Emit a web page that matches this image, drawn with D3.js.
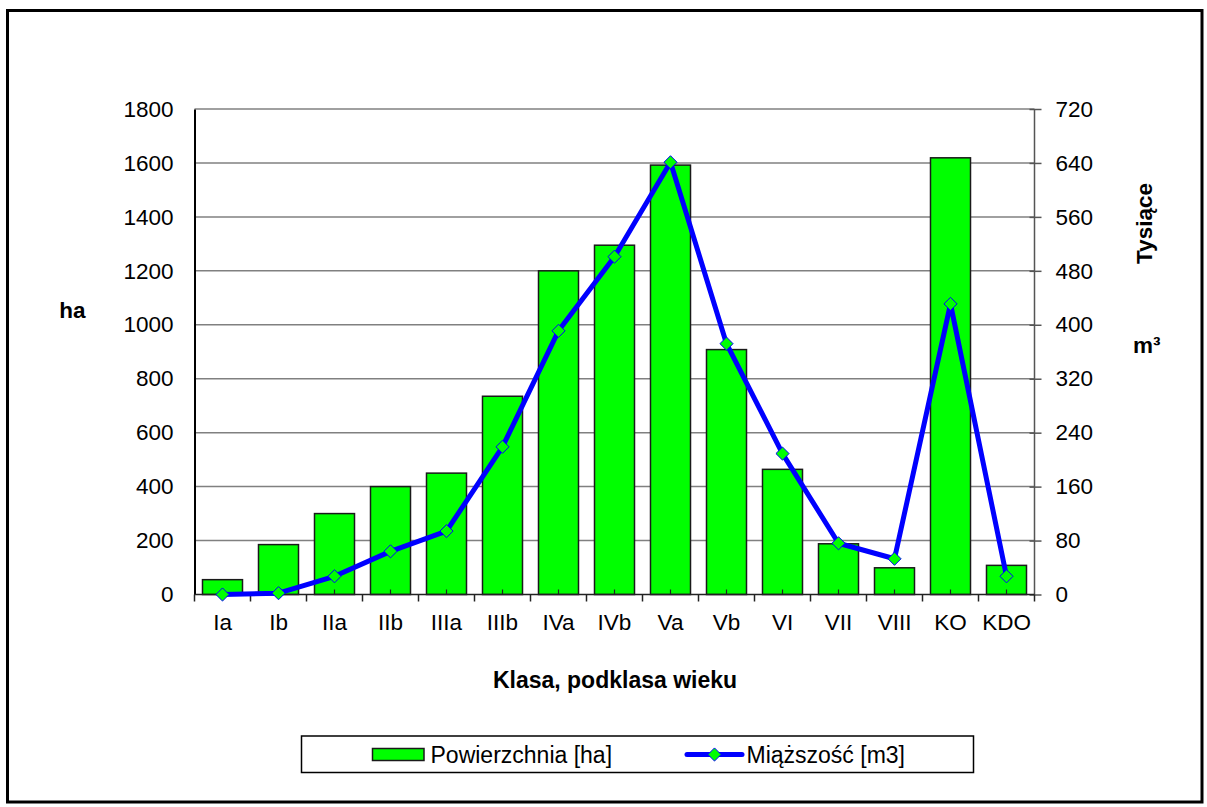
<!DOCTYPE html>
<html><head><meta charset="utf-8">
<script src="https://cdn.jsdelivr.net/npm/d3@7"></script>
<style>
html,body{margin:0;padding:0;background:#fff;}
svg{display:block;font-family:"Liberation Sans",Arial,sans-serif;}
</style></head>
<body>
<svg id="chart" width="1207" height="807"></svg>
<script>
const categories = ["Ia","Ib","IIa","IIb","IIIa","IIIb","IVa","IVb","Va","Vb","VI","VII","VIII","KO","KDO"];
const areaHa = [55,185,300,400,450,735,1200,1295,1592,908,464,188,99,1619,108];
const volumeK = [0,2,27,64,94,219,391,501,641,372,209,76,53,431,27];
const leftTicks = [0,200,400,600,800,1000,1200,1400,1600,1800];
const rightTicks = [0,80,160,240,320,400,480,560,640,720];
const seriesNames = ["Powierzchnia [ha]","Miąższość [m3]"];

const FONT = "'Liberation Sans',Arial,sans-serif";
const svg = d3.select("#chart");
const X0 = 194.5, X1 = 1034.5, Y0 = 594.5, Y1 = 109;
const FS = 22.5;

// outer border
svg.append("rect").attr("x",7.5).attr("y",10.5).attr("width",1194.5).attr("height",791.5)
  .attr("fill","#fff").attr("stroke","#000").attr("stroke-width",3);

const x = d3.scaleBand().domain(categories).range([X0,X1]).paddingInner(0.2857).paddingOuter(0.14285);
const yL = d3.scaleLinear().domain([0,1800]).range([Y0,Y1]);
const yR = d3.scaleLinear().domain([0,720]).range([Y0,Y1]);

// gridlines
svg.append("g").selectAll("line").data(leftTicks.slice(1)).join("line")
  .attr("x1",X0).attr("x2",X1).attr("y1",d=>yL(d)).attr("y2",d=>yL(d))
  .attr("stroke","#808080").attr("stroke-width",1.5);

// bars
svg.append("g").selectAll("rect").data(categories).join("rect")
  .attr("x",d=>x(d)).attr("width",x.bandwidth())
  .attr("y",(d,i)=>yL(areaHa[i])).attr("height",(d,i)=>Y0-yL(areaHa[i]))
  .attr("fill","#00ff00").attr("stroke","#1a1a1a").attr("stroke-width",1.5);

// left axis
const leftAxis = d3.axisLeft(yL).tickValues(leftTicks).tickFormat(d3.format("d")).tickSize(0).tickPadding(21);
const gL = svg.append("g").attr("transform",`translate(${X0},0)`).call(leftAxis);
gL.select(".domain").attr("stroke","#000").attr("stroke-width",2);
gL.selectAll("text").attr("font-size",FS).attr("fill","#000").attr("font-family",FONT);

// right axis
const rightAxis = d3.axisRight(yR).tickValues(rightTicks).tickFormat(d3.format("d")).tickSize(7).tickPadding(14);
const gR = svg.append("g").attr("transform",`translate(${X1},0)`).call(rightAxis);
gR.select(".domain").attr("stroke","#555").attr("stroke-width",1.5).attr("d",`M0,${Y0}V${Y1}`);
gR.selectAll(".tick line").attr("stroke","#555").attr("stroke-width",1.5).attr("x1",-5);
gR.selectAll("text").attr("font-size",FS).attr("fill","#000").attr("font-family",FONT);

// bottom axis
const bottomAxis = d3.axisBottom(x).tickSize(0).tickPadding(20);
const gB = svg.append("g").attr("transform",`translate(0,${Y0})`).call(bottomAxis);
gB.select(".domain").attr("stroke","#222").attr("stroke-width",1.5).attr("d",`M${X0},0H${X1}`);
gB.selectAll("text").attr("font-size",FS).attr("fill","#000").attr("font-family",FONT);
// category boundary ticks
const step = x.step();
svg.append("g").selectAll("line").data(d3.range(categories.length+1)).join("line")
  .attr("x1",i=>X0+i*step).attr("x2",i=>X0+i*step).attr("y1",Y0).attr("y2",Y0+7)
  .attr("stroke","#222").attr("stroke-width",1.5);
// small center ticks
svg.append("g").selectAll("line").data(categories).join("line")
  .attr("x1",d=>x(d)+x.bandwidth()/2).attr("x2",d=>x(d)+x.bandwidth()/2).attr("y1",Y0).attr("y2",Y0-5)
  .attr("stroke","#222").attr("stroke-width",1.2);

// line series
const line = d3.line().x((d,i)=>x(categories[i])+x.bandwidth()/2).y(d=>yR(d));
svg.append("path").datum(volumeK).attr("d",line).attr("fill","none")
  .attr("stroke","#0000ff").attr("stroke-width",5).attr("stroke-linejoin","round");
const diamond = d3.symbol().type(d3.symbolDiamond2).size(110);
svg.append("g").selectAll("path").data(volumeK).join("path")
  .attr("transform",(d,i)=>`translate(${x(categories[i])+x.bandwidth()/2},${yR(d)})`)
  .attr("d",diamond).attr("fill","#00ff00").attr("stroke","#0000ff").attr("stroke-width",1);

// axis titles
svg.append("text").attr("x",615).attr("y",688).attr("text-anchor","middle").attr("font-family",FONT)
  .attr("font-size",23).attr("font-weight","bold").text("Klasa, podklasa wieku");
svg.append("text").attr("x",72.5).attr("y",318).attr("text-anchor","middle").attr("font-family",FONT)
  .attr("font-size",22.5).attr("font-weight","bold").text("ha");
svg.append("text").attr("transform","translate(1151.5,223.5) rotate(-90)").attr("text-anchor","middle")
  .attr("font-family",FONT).attr("font-size",22.5).attr("font-weight","bold").text("Tysiące");
svg.append("text").attr("x",1133).attr("y",353).attr("font-family",FONT).attr("font-size",22.5).attr("font-weight","bold")
  .text("m³");

// legend
const lg = svg.append("g").attr("font-family",FONT);
lg.append("rect").attr("x",301.5).attr("y",736).attr("width",672).attr("height",36.5)
  .attr("fill","#fff").attr("stroke","#000").attr("stroke-width",1.5);
lg.append("rect").attr("x",372.5).attr("y",748.5).attr("width",51.5).attr("height",12)
  .attr("fill","#00ff00").attr("stroke","#1a1a1a").attr("stroke-width",1.5);
lg.append("text").attr("x",430.5).attr("y",762.5).attr("font-size",23).text(seriesNames[0]);
lg.append("line").attr("x1",687).attr("x2",742).attr("y1",754.5).attr("y2",754.5)
  .attr("stroke","#0000ff").attr("stroke-width",5).attr("stroke-linecap","round");
lg.append("path").attr("transform","translate(714.5,754.5)").attr("d",diamond)
  .attr("fill","#00ff00").attr("stroke","#0000ff").attr("stroke-width",1);
lg.append("text").attr("x",746.5).attr("y",762.5).attr("font-size",23).text(seriesNames[1]);
</script>
</body></html>
